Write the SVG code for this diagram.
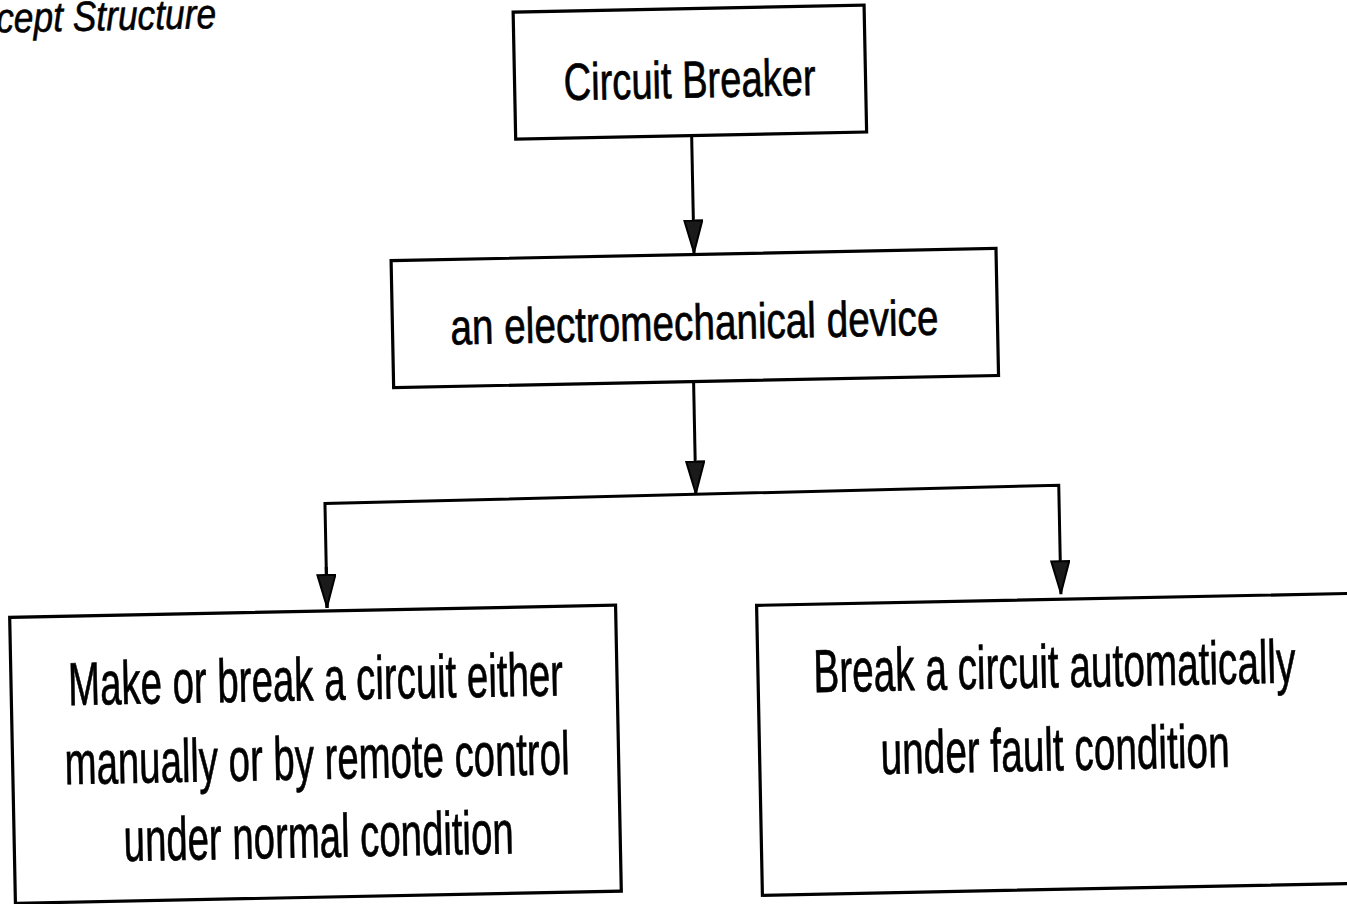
<svg xmlns="http://www.w3.org/2000/svg" width="1347" height="904" viewBox="0 0 1347 904">
<style>
.box{fill:none;stroke:#000;stroke-width:3.2}
.lbl{font-family:"Liberation Sans",Arial,sans-serif;fill:#000;stroke:#000;stroke-width:0.7;text-anchor:middle}
.conn{fill:none;stroke:#000;stroke-width:3}
</style>
<defs>
<marker id="ah" viewBox="0 0 34 20" refX="34" refY="10" markerWidth="34" markerHeight="20" markerUnits="userSpaceOnUse" orient="auto">
<path d="M1,1 L33,10 L1,19 Z" fill="#1a1a1a" stroke="#000" stroke-width="2"/>
</marker>
</defs>
<rect width="1347" height="904" fill="#fff"/>
<g transform="rotate(-1.15 673 452)">
<text x="5" y="19" font-family="'Liberation Sans',Arial,sans-serif" font-style="italic" font-size="42" stroke="#000" stroke-width="0.6" textLength="220" lengthAdjust="spacingAndGlyphs">cept Structure</text>
<g id="n1">
<rect class="box" x="522" y="9" width="351" height="127"/>
<text class="lbl" x="697" y="98" font-size="52" textLength="252" lengthAdjust="spacingAndGlyphs">Circuit Breaker</text>
</g>
<g id="n2">
<rect class="box" x="395" y="255" width="605" height="127"/>
<text class="lbl" x="697" y="340" font-size="50" textLength="488" lengthAdjust="spacingAndGlyphs">an electromechanical device</text>
</g>
<g id="n3">
<rect class="box" x="6.5" y="604" width="606" height="286"/>
<text class="lbl" x="311" y="693" font-size="61" textLength="495" lengthAdjust="spacingAndGlyphs">Make or break a circuit either</text>
<text class="lbl" x="311" y="772" font-size="61" textLength="505" lengthAdjust="spacingAndGlyphs">manually or by remote control</text>
<text class="lbl" x="311" y="850" font-size="61" textLength="390" lengthAdjust="spacingAndGlyphs">under normal condition</text>
</g>
<g id="n4">
<rect class="box" x="753.5" y="607" width="700" height="290"/>
<text class="lbl" x="1050" y="695" font-size="61" textLength="482" lengthAdjust="spacingAndGlyphs">Break a circuit automatically</text>
<text class="lbl" x="1049" y="778" font-size="61" textLength="349" lengthAdjust="spacingAndGlyphs">under fault condition</text>
</g>
<g id="connectors">
<line class="conn" x1="698" y1="137" x2="698" y2="254" marker-end="url(#ah)"/>
<line class="conn" x1="695" y1="383" x2="695" y2="495" marker-end="url(#ah)"/>
<polyline class="conn" points="324,601 324,496.5 1058,493 1058,602" marker-end="url(#ah)"/>
<line class="conn" x1="324" y1="560" x2="324" y2="601" marker-end="url(#ah)"/>
</g>
</g>
</svg>
